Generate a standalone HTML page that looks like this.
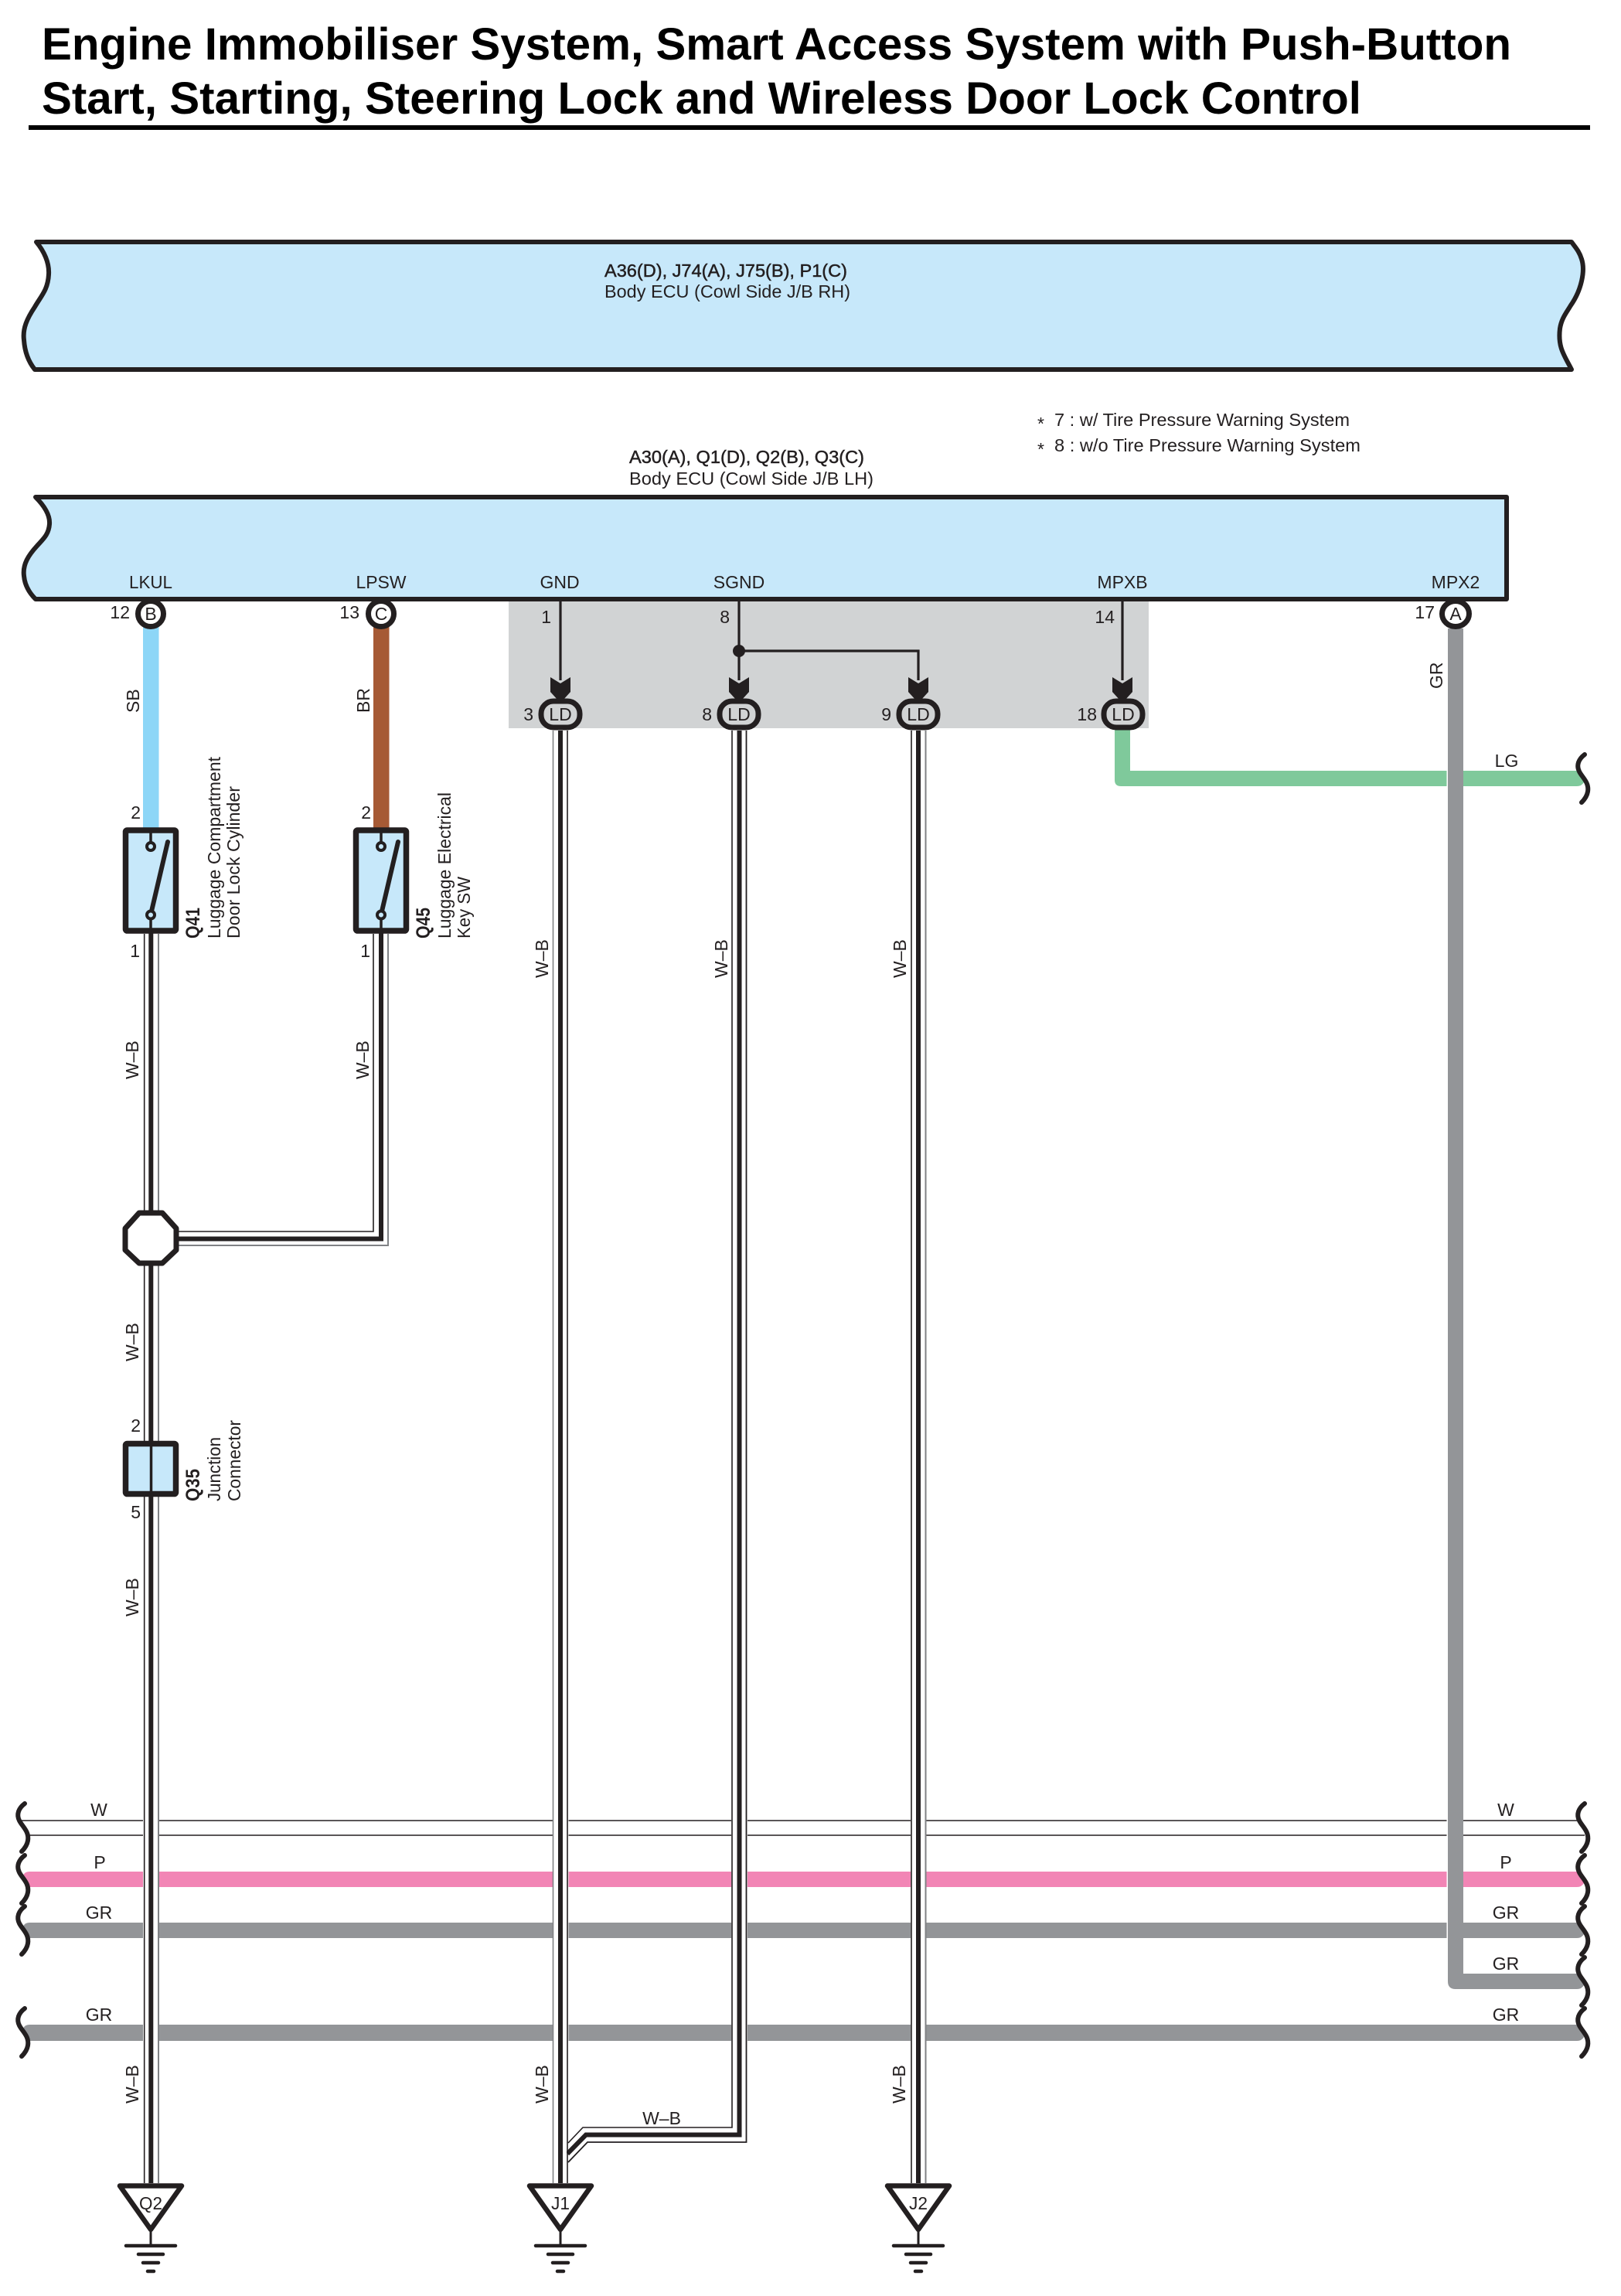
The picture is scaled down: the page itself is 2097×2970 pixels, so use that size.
<!DOCTYPE html>
<html><head><meta charset="utf-8"><style>
html,body{margin:0;padding:0;background:#fff}
svg{display:block}
text{font-family:"Liberation Sans",Arial,sans-serif;font-size:23px;fill:#231f20}
.m{text-anchor:middle}.e{text-anchor:end}
.b{font-weight:bold}
.q{font-weight:bold;font-size:25px}
.s{stroke:#231f20;stroke-width:.5}
.k{stroke:#231f20;fill:none}
.d{stroke:#231f20;stroke-width:1.6}
.g{stroke:#808285;stroke-width:2}
</style></head><body>
<svg width="2097" height="2970" viewBox="0 0 2097 2970" xmlns="http://www.w3.org/2000/svg">
<defs>
<path id="wv" d="M32 0C24 6 21 14 25 22C29 30 38 36 36 48C35 54 31 59 28 62" fill="none" stroke="#231f20" stroke-width="6" stroke-linecap="round"/>
<path id="ah" d="M-13 0L0 8L13 0V19L3 30H-3L-13 19Z" fill="#231f20"/>
<g id="gnd" stroke="#231f20" stroke-linecap="round">
<path d="M0 2885V2905" stroke-width="3"/>
<path d="M-32 2905H32M-16 2916H16M-10 2927H10M-4 2938H4" stroke-width="4.5"/>
<path d="M-40 2827.5H40L0 2884Z" fill="#fff" stroke-width="6.5" stroke-linejoin="round"/>
</g>
</defs>

<!-- title -->
<text x="54" y="77" class="b" style="font-size:58px;fill:#000" textLength="1901" lengthAdjust="spacingAndGlyphs">Engine Immobiliser System, Smart Access System with Push-Button</text>
<text x="54" y="147" class="b" style="font-size:58px;fill:#000" textLength="1707" lengthAdjust="spacingAndGlyphs">Start, Starting, Steering Lock and Wireless Door Lock Control</text>
<rect x="37" y="162" width="2020" height="6" fill="#000"/>

<!-- top ECU -->
<path d="M47 313C57 325 64 340 63 355C62 375 53 383 45 397C35 412 29 425 31 440C32 455 37 468 45 478H2033C2024 460 2015 450 2018 425C2020 412 2026 405 2032 395C2046 375 2051 350 2046 335C2043 325 2038 320 2033 313Z" fill="#c7e8fa" stroke="#231f20" stroke-width="6" stroke-linejoin="round"/>
<text x="782" y="358" class="s" textLength="314" lengthAdjust="spacingAndGlyphs">A36(D), J74(A), J75(B), P1(C)</text>
<text x="782" y="385" textLength="318" lengthAdjust="spacingAndGlyphs">Body ECU (Cowl Side J/B RH)</text>

<!-- notes -->
<text x="1342" y="556">*</text><text x="1364" y="551" textLength="382" lengthAdjust="spacingAndGlyphs">7 : w/ Tire Pressure Warning System</text>
<text x="1342" y="589">*</text><text x="1364" y="584" textLength="396" lengthAdjust="spacingAndGlyphs">8 : w/o Tire Pressure Warning System</text>
<text x="814" y="599" class="s" textLength="304" lengthAdjust="spacingAndGlyphs">A30(A), Q1(D), Q2(B), Q3(C)</text>
<text x="814" y="627" textLength="316" lengthAdjust="spacingAndGlyphs">Body ECU (Cowl Side J/B LH)</text>

<!-- grey zone -->
<rect x="658" y="776" width="828" height="166" fill="#d1d3d4"/>

<!-- coloured wires -->
<rect x="185" y="810" width="20.5" height="262" fill="#8dd6f7"/>
<rect x="483" y="810" width="20.5" height="262" fill="#a65a35"/>
<path d="M1442 942V1009Q1442 1017 1450 1017H2040Q2046 1017 2049 1012L2043 997H1462V942Z" fill="#7fc99b"/>
<rect x="1871.5" y="990" width="2" height="34" fill="#fff"/>

<!-- horizontal bus -->
<path d="M28 2355H2042M37 2374H2050" stroke="#231f20" stroke-width="1.6"/>
<path d="M38 2421Q32 2421 30 2426L37 2441H2040Q2046 2441 2049 2436L2043 2421Z" fill="#f285b5"/>
<path d="M38 2487Q32 2487 30 2492L37 2507H2040Q2046 2507 2049 2502L2043 2487Z" fill="#939598"/>
<path d="M38 2619Q32 2619 30 2624L37 2640H2040Q2046 2640 2049 2635L2043 2619Z" fill="#939598"/>

<!-- gaps -->
<g fill="#fff">
<rect x="185" y="2340" width="21" height="310"/>
<rect x="715" y="2340" width="20.5" height="310"/>
<rect x="946" y="2340" width="21" height="310"/>
<rect x="1178" y="2340" width="20.5" height="310"/>
<rect x="1871.5" y="2345" width="2" height="170"/>
</g>

<!-- GR vertical -->
<path d="M1873 813V2563Q1873 2573 1883 2573H2040Q2046 2573 2049 2568L2043 2553H1893V813Z" fill="#939598"/>

<!-- bus breaks on right/left -->
<g>
<use href="#wv" y="976" x="2018"/>
<use href="#wv" y="2333"/><use href="#wv" y="2400"/><use href="#wv" y="2466"/><use href="#wv" y="2598"/>
<use href="#wv" y="2333" x="2018"/><use href="#wv" y="2400" x="2018"/><use href="#wv" y="2466" x="2018"/><use href="#wv" y="2532" x="2018"/><use href="#wv" y="2598" x="2018"/>
</g>

<!-- Q41 / Q2 wire -->
<path d="M186.7 1208V2824" class="d"/><path d="M205 1208V2824" class="g"/><path d="M195.3 1200V2824" stroke="#231f20" stroke-width="6"/>
<!-- Q45 wire -->
<path d="M483 1208V1593H225" class="d" fill="none"/>
<path d="M502 1208V1611H225" class="g" fill="none"/>
<path d="M493 1200V1602.5H225" fill="none" stroke="#231f20" stroke-width="6"/>

<!-- J1 branch -->
<path d="M947 945V2752H754L735 2772" class="d" fill="none"/>
<path d="M965.5 945V2771H760L735 2797" class="d" fill="none" style="stroke-width:1.8"/>
<path d="M956.5 945V2761.5H758L734 2786" fill="none" stroke="#231f20" stroke-width="6"/>
<!-- J1 wire -->
<rect x="715" y="945" width="18" height="1879" fill="#fff"/>
<path d="M715.5 945V2824" class="g" style="stroke-width:1.6"/><path d="M734 945V2824" class="d"/><path d="M725 945V2824" stroke="#231f20" stroke-width="6"/>
<!-- J2 wire -->
<path d="M1179 945V2824" class="d"/><path d="M1197.5 945V2824" class="g"/><path d="M1188 945V2824" stroke="#231f20" stroke-width="6"/>

<!-- lower ECU -->
<path d="M46 643C56 653 65 665 64 678C63 692 55 698 48 706C37 718 29 730 31 745C32 757 38 767 46 775H1949V643Z" fill="#c7e8fa" stroke="#231f20" stroke-width="6" stroke-linejoin="round"/>
<text x="195" y="761" class="m" textLength="56" lengthAdjust="spacingAndGlyphs">LKUL</text>
<text x="493" y="761" class="m" textLength="65" lengthAdjust="spacingAndGlyphs">LPSW</text>
<text x="724" y="761" class="m">GND</text>
<text x="956" y="761" class="m">SGND</text>
<text x="1452" y="761" class="m">MPXB</text>
<text x="1883" y="761" class="m">MPX2</text>

<!-- pins -->
<g fill="#fff" stroke="#231f20" stroke-width="7">
<ellipse cx="195" cy="794" rx="16.5" ry="16.5"/>
<ellipse cx="493" cy="794" rx="16.5" ry="16.5"/>
<ellipse cx="1883" cy="794" rx="17.5" ry="16.5"/>
</g>
<text x="195" y="802" class="m">B</text><text x="493" y="802" class="m">C</text><text x="1883" y="802" class="m">A</text>
<text x="168" y="800" class="e">12</text><text x="465" y="800" class="e">13</text><text x="1856" y="800" class="e">17</text>

<!-- splice lines -->
<g stroke="#231f20" stroke-width="3.2" fill="none">
<path d="M725 778V880M956 778V880M956 842H1188V880M1452 778V880"/>
</g>
<circle cx="956" cy="842" r="8" fill="#231f20"/>
<use href="#ah" x="725" y="876"/><use href="#ah" x="956" y="876"/><use href="#ah" x="1188" y="876"/><use href="#ah" x="1452" y="876"/>
<g fill="#d1d3d4" stroke="#231f20" stroke-width="7">
<rect x="700" y="907" width="50" height="34" rx="16"/>
<rect x="931" y="907" width="50" height="34" rx="16"/>
<rect x="1163" y="907" width="50" height="34" rx="16"/>
<rect x="1428" y="907" width="50" height="34" rx="16"/>
</g>
<text x="725" y="932" class="m">LD</text><text x="956" y="932" class="m">LD</text><text x="1188" y="932" class="m">LD</text><text x="1453" y="932" class="m">LD</text>
<text x="690" y="932" class="e">3</text><text x="921" y="932" class="e">8</text><text x="1153" y="932" class="e">9</text><text x="1419" y="932" class="e">18</text>
<text x="713" y="806" class="e">1</text><text x="944" y="806" class="e">8</text><text x="1442" y="806" class="e">14</text>

<!-- switches -->
<g stroke="#231f20">
<rect x="162.5" y="1074" width="65" height="130" rx="2" fill="#c7e8fa" stroke-width="7.5"/>
<rect x="460.5" y="1074" width="65" height="130" rx="2" fill="#c7e8fa" stroke-width="7.5"/>
<path d="M195 1074V1090M195 1190V1206M493 1074V1090M493 1190V1206" stroke-width="3.5"/>
<path d="M195 1183L217 1089M493 1183L515 1089" stroke-width="6" stroke-linecap="round"/>
<circle cx="195" cy="1095" r="5" fill="#c7e8fa" stroke-width="4"/>
<circle cx="195" cy="1183.5" r="5" fill="#c7e8fa" stroke-width="4"/>
<circle cx="493" cy="1095" r="5" fill="#c7e8fa" stroke-width="4"/>
<circle cx="493" cy="1183.5" r="5" fill="#c7e8fa" stroke-width="4"/>
</g>
<text x="182" y="1059" class="e">2</text><text x="181" y="1238" class="e">1</text>
<text x="480" y="1059" class="e">2</text><text x="479" y="1238" class="e">1</text>

<!-- splice octagon -->
<path d="M180 1569H210L228 1589V1617L210 1634H180L162 1617V1589Z" fill="#fff" stroke="#231f20" stroke-width="7" stroke-linejoin="round"/>

<!-- Q35 -->
<rect x="162.5" y="1867.5" width="65" height="65" rx="2" fill="#c7e8fa" stroke="#231f20" stroke-width="7.5"/>
<path d="M195.5 1867V1933" stroke="#231f20" stroke-width="3.5"/>
<text x="182" y="1852" class="e">2</text><text x="182" y="1964" class="e">5</text>

<!-- grounds -->
<use href="#gnd" x="195"/><use href="#gnd" x="725"/><use href="#gnd" x="1188"/>
<text x="195" y="2858" class="m" textLength="30" lengthAdjust="spacingAndGlyphs">Q2</text>
<text x="725" y="2858" class="m" textLength="24" lengthAdjust="spacingAndGlyphs">J1</text>
<text x="1188" y="2858" class="m" textLength="24" lengthAdjust="spacingAndGlyphs">J2</text>

<!-- wire labels, vertical -->
<g>
<text transform="rotate(-90 180 922)" x="180" y="922">SB</text>
<text transform="rotate(-90 478 922)" x="478" y="922">BR</text>
<text transform="rotate(-90 1866 891)" x="1866" y="891">GR</text>
<text transform="rotate(-90 179 1396)" x="179" y="1396">W–B</text>
<text transform="rotate(-90 477 1396)" x="477" y="1396">W–B</text>
<text transform="rotate(-90 179 1761)" x="179" y="1761">W–B</text>
<text transform="rotate(-90 179 2091)" x="179" y="2091">W–B</text>
<text transform="rotate(-90 179 2721)" x="179" y="2721">W–B</text>
<text transform="rotate(-90 709 2721)" x="709" y="2721">W–B</text>
<text transform="rotate(-90 1171 2721)" x="1171" y="2721">W–B</text>
<text transform="rotate(-90 709 1265)" x="709" y="1265">W–B</text>
<text transform="rotate(-90 941 1265)" x="941" y="1265">W–B</text>
<text transform="rotate(-90 1172 1265)" x="1172" y="1265">W–B</text>
<!-- component names -->
<text transform="rotate(-90 258 1214)" x="258" y="1214" class="q" textLength="40" lengthAdjust="spacingAndGlyphs">Q41</text>
<text transform="rotate(-90 285 1214)" x="285" y="1214" textLength="235" lengthAdjust="spacingAndGlyphs">Luggage Compartment</text>
<text transform="rotate(-90 310 1214)" x="310" y="1214" textLength="197" lengthAdjust="spacingAndGlyphs">Door Lock Cylinder</text>
<text transform="rotate(-90 556 1214)" x="556" y="1214" class="q" textLength="40" lengthAdjust="spacingAndGlyphs">Q45</text>
<text transform="rotate(-90 583 1214)" x="583" y="1214" textLength="189" lengthAdjust="spacingAndGlyphs">Luggage Electrical</text>
<text transform="rotate(-90 608 1214)" x="608" y="1214" textLength="80" lengthAdjust="spacingAndGlyphs">Key SW</text>
<text transform="rotate(-90 258 1942)" x="258" y="1942" class="q" textLength="42" lengthAdjust="spacingAndGlyphs">Q35</text>
<text transform="rotate(-90 285 1942)" x="285" y="1942" textLength="83" lengthAdjust="spacingAndGlyphs">Junction</text>
<text transform="rotate(-90 311 1942)" x="311" y="1942" textLength="105" lengthAdjust="spacingAndGlyphs">Connector</text>
</g>

<!-- wire labels, horizontal -->
<text x="856" y="2748" class="m">W–B</text>
<text x="1949" y="992" class="m">LG</text>
<text x="128" y="2349" class="m">W</text><text x="1948" y="2349" class="m">W</text>
<text x="129" y="2417" class="m">P</text><text x="1948" y="2417" class="m">P</text>
<text x="128" y="2482" class="m">GR</text><text x="1948" y="2482" class="m">GR</text>
<text x="1948" y="2548" class="m">GR</text>
<text x="128" y="2614" class="m">GR</text><text x="1948" y="2614" class="m">GR</text>
</svg>
</body></html>
